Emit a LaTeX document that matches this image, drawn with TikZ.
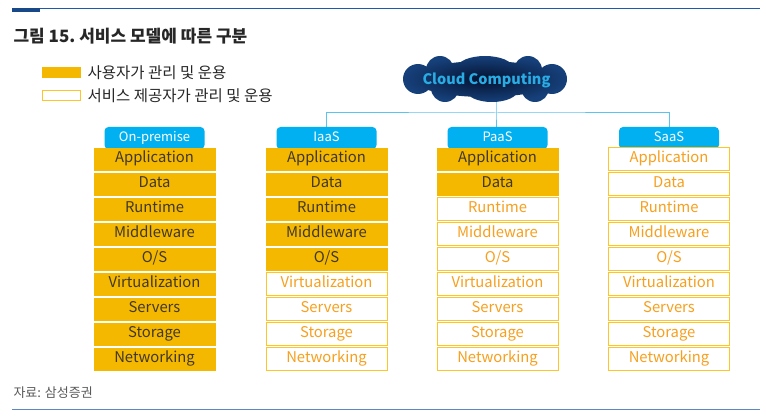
\documentclass[tikz,border=0pt]{standalone}
\usepackage{fontspec}
\setmainfont{Noto Sans CJK KR}
\usetikzlibrary{backgrounds}
\definecolor{usergold}{RGB}{245,184,0}
\definecolor{provline}{RGB}{255,196,40}
\definecolor{provtext}{RGB}{247,160,30}
\definecolor{darktext}{RGB}{64,56,40}
\definecolor{headcyan}{RGB}{0,176,240}
\definecolor{busblue}{RGB}{90,195,240}
\definecolor{rulenavy}{RGB}{30,90,170}
\definecolor{rulesteel}{RGB}{95,135,195}
\definecolor{cloudinner}{RGB}{4,18,48}
\definecolor{cloudouter}{RGB}{22,64,122}
\definecolor{cloudtext}{RGB}{41,172,228}
\tikzset{
	userbox/.style={fill=usergold, draw=usergold, text=darktext, minimum width=121pt, minimum height=22.5pt,
		inner sep=0pt, text height=10.5pt, text depth=3pt, font=\fontsize{14.8}{14.8}\selectfont},
	provbox/.style={userbox, fill=white, draw=provline, line width=1pt, text=provtext},
	headbox/.style={fill=headcyan, text=white, rounded corners=4pt, minimum width=100pt, minimum height=22pt,
		inner sep=0pt, text height=9pt, text depth=2.5pt, font=\fontsize{13}{13}\selectfont},
	busline/.style={busblue, line width=1pt},
}
\begin{document}
\begin{tikzpicture}[x=1pt, y=-1pt]
	\useasboundingbox (0,0) rectangle (766,417);
	\draw[rulenavy, line width=1pt] (12,8.5) -- (760,8.5);
	\fill[rulenavy!80!black] (12,8.5) rectangle (40,12);
	\draw[rulesteel, line width=1.5pt] (12,409.5) -- (760,409.5);
	\node[anchor=west, text=black!85, font=\fontsize{17}{17}\selectfont\bfseries] (title) at (10,36) {그림 15.\ 서비스 모델에 따른 구분};
	\node[anchor=west, text=black!65, font=\fontsize{13}{13}\selectfont] (source) at (10,393) {자료: 삼성증권};
	% legend
	\node[fill=usergold, minimum width=39pt, minimum height=11pt, inner sep=0pt] (leguser) at (61.5,72.5) {};
	\node[draw=provline, line width=1pt, fill=white, minimum width=38pt, minimum height=10pt, inner sep=0pt] (legprov) at (61.5,95.5) {};
	\node[anchor=west, font=\fontsize{15.5}{15.5}\selectfont, text=black!85] (legusertext) at (84,73) {사용자가 관리 및 운용};
	\node[anchor=west, font=\fontsize{15.5}{15.5}\selectfont, text=black!85] (legprovtext) at (84,96) {서비스 제공자가 관리 및 운용};
	% columns
	\foreach \cx/\ctext/\cn [count=\c] in {154.5/On-premise/9, 326.5/IaaS/5, 497.5/PaaS/2, 669/SaaS/0} {
		\node[headbox] (hdr\c) at (\cx,138) {\ctext};
		\foreach \rtext [count=\r] in {Application,Data,Runtime,Middleware,{O/S},Virtualization,Servers,Storage,Networking} {
			\ifnum\r>\cn \def\boxstyle{provbox}\else\def\boxstyle{userbox}\fi
			\node[\boxstyle] (c\c-r\r) at (\cx,134+25*\r) {\rtext};
		}
	}
	% cloud
	\shade[inner color=cloudinner, outer color=cloudouter]
		(485,79) ellipse (72 and 18)
		(440,70) circle (14) (485,68) ellipse (28 and 12) (528,70) circle (14)
		(445,88) circle (14) (492,90) ellipse (26 and 12) (535,88) circle (14)
		(418,79) circle (15) (552,79) circle (15);
	\node[text=cloudtext, font=\fontsize{14.5}{14.5}\selectfont\bfseries] (cloud) at (486.5,80) {Cloud Computing};
	\coordinate (bus) at (496,113);
	\begin{scope}[on background layer]
		\draw[busline] (cloud.center -| bus) -- (bus) -- (bus |- hdr3.north);
		\draw[busline] (hdr2.north) |- (bus) -| (hdr4.north);
	\end{scope}
\end{tikzpicture}
\end{document}
